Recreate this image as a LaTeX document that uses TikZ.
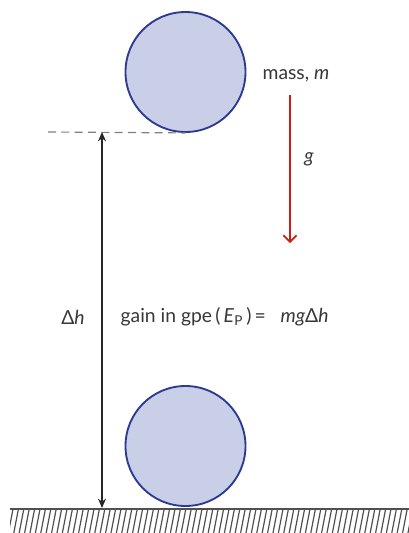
\documentclass[tikz,border=0pt]{standalone}
\usepackage{fontspec}
\setmainfont{Lato}
\usetikzlibrary{arrows.meta}
\definecolor{ballfill}{RGB}{201,207,230}
\definecolor{balledge}{RGB}{45,58,145}
\definecolor{gred}{RGB}{205,30,20}
\definecolor{txt}{RGB}{55,55,55}
\definecolor{hatch}{RGB}{80,80,80}
\tikzset{
  ball/.style={circle, draw=balledge, line width=1.4pt, fill=ballfill, minimum size=90pt, inner sep=0pt},
  lbl/.style={text=txt, font=\fontsize{14.5}{17}\selectfont, inner sep=1pt},
  dimarrow/.style={line width=1.1pt, draw=black!85, {Stealth[length=7pt,width=6pt]}-{Stealth[length=7pt,width=6pt]}},
  gravarrow/.style={line width=1.2pt, draw=gred, -{Straight Barb[length=5pt,width=10pt]}},
  dashline/.style={dashed, dash pattern=on 6pt off 4pt, draw=gray, line width=0.9pt},
}
\begin{document}
\begin{tikzpicture}[x=0.75pt,y=-0.75pt]
\useasboundingbox (0,0) rectangle (409,533);
% ground
\begin{scope}
\clip (10,509) rectangle (409,533);
\foreach \i in {0,...,75} {
  \draw[hatch, line width=0.9pt] ({8+\i*5.4},535) -- ({13+\i*5.4},509);
}
\end{scope}
\draw[hatch, line width=1pt] (10,509) -- (409,509);
% balls
\node[ball] (top) at (185.5,72) {};
\node[ball] (bot) at (185.5,446) {};
% dashed reference
\coordinate (dl) at (48,132);
\draw[dashline] (dl) -- (top.south);
% height arrow
\coordinate (ha) at (102,132);
\coordinate (hb) at (102,508);
\draw[dimarrow] (ha) -- (hb);
% gravity
\coordinate (ga) at (290,95);
\coordinate (gb) at (290,243);
\draw[gravarrow] (ga) -- (gb);
% labels
\node[lbl] (mass) at (296,76) {mass, \textit{m}};
\node[lbl] (g) at (309,159) {\textit{g}};
\node[lbl] (dh) at (73,317) {Δ\textit{h}};
\node[lbl, anchor=west] (gain) at (119,317) {gain in gpe\,(\,\textit{E}\textsubscript{P}\,)\,=\hspace{11pt}\textit{mg}Δ\textit{h}};
\end{tikzpicture}
\end{document}
